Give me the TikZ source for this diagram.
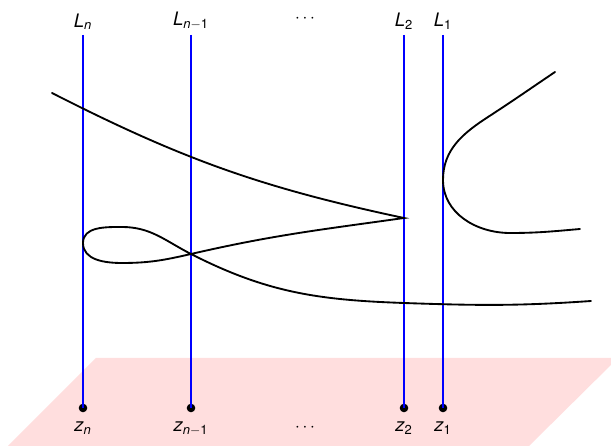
\documentclass[tikz,border=0pt]{standalone}
\usepackage{fontspec}
\setmainfont{TeX Gyre Heros}
\usetikzlibrary{positioning}

\begin{document}
\begin{tikzpicture}[x=0.7pt, y=0.7pt,
  font=\fontsize{13}{15}\selectfont,
  fibre/.style={blue, line width=1.3pt},
  curve/.style={line width=1.3pt, line cap=round},
  dot/.style={circle, fill=black, inner sep=0pt, minimum size=6pt}]
\useasboundingbox (0,0) rectangle (611,446);
% the base plane
\fill[red!13] (8,0) -- (96,88) -- (618,88) -- (529,0) -- cycle;
% the lines over the points
\foreach \x/\nm/\sub in {83/n/{\textit{n}}, 191/m/{\textit{n}$-$1}, 404/b/{2}, 443/a/{1}} {
  \coordinate (top\nm) at (\x,411);
  \node[dot] (z\nm) at (\x,38) {};
  \draw[fibre] (top\nm) -- (z\nm.center);
  \node[above=0pt of top\nm] (L\nm) {\textit{L}\textsubscript{\sub}};
  \node[below=3pt of z\nm] (zl\nm) {\textit{z}\textsubscript{\sub}};
}
\node[anchor=base, yshift=2pt] (dtop) at (Lm.base -| 305,0) {$\cdots$};
\node[anchor=base] (dbot) at (zlm.base -| 305,0) {$\cdots$};
% the curve with the cusp and the loop
\coordinate (cusp) at (404,228);
\coordinate (cross) at (191,192);
\draw[curve] (52,353) to[out=-27, in=168] (cusp)
  to[out=188, in=13] (cross)
  to[out=193, in=0] (122,183)
  to[out=180, in=-90] (83,203)
  to[out=90, in=180] (122,219)
  to[out=0, in=153] (cross)
  to[out=-27, in=178] (404,143)
  to[out=-2, in=184] (591,145);
% the curve that touches L_1
\coordinate (touch) at (443,266);
\draw[curve] (555,374) to[out=214, in=33] (488,329)
  to[out=213, in=90] (touch)
  to[out=-90, in=180] (510,213)
  to[out=0, in=185] (580,217);
\end{tikzpicture}
\end{document}
